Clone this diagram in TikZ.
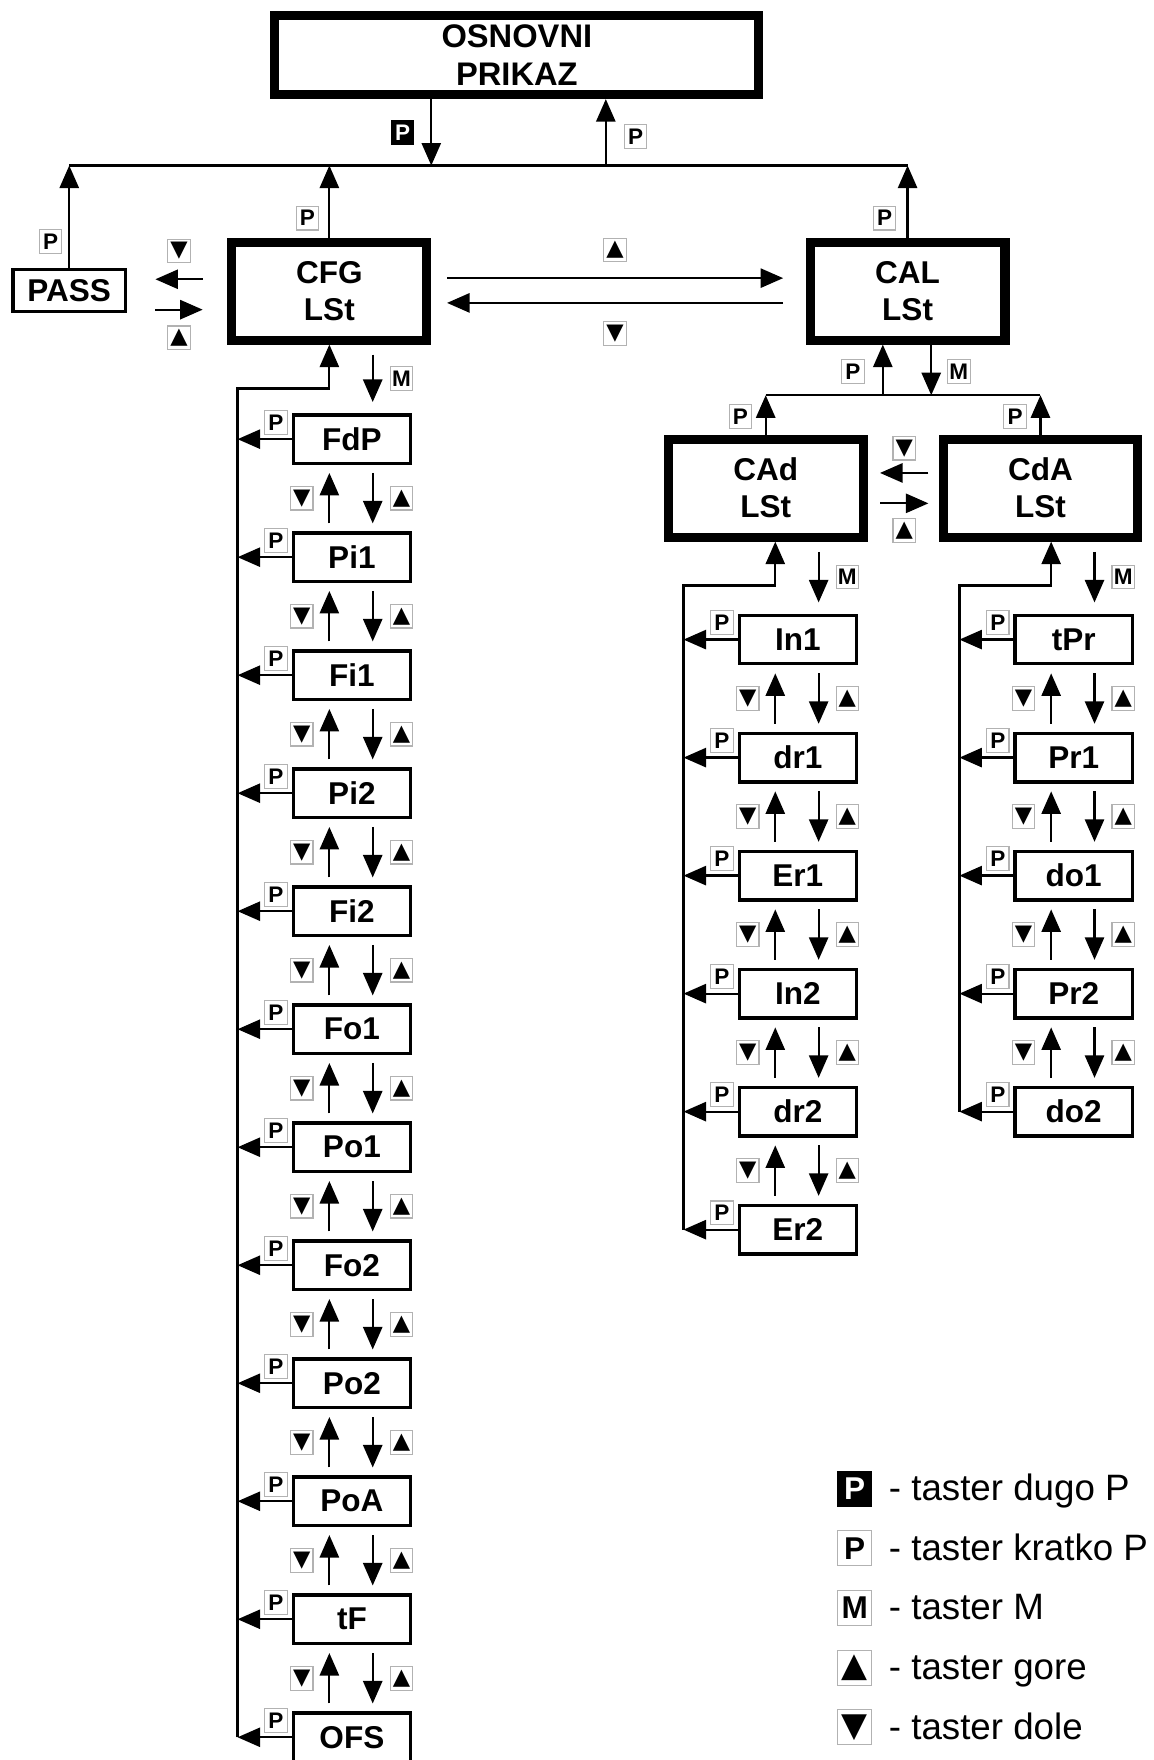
\documentclass[tikz,border=0pt]{standalone}
\usepackage{fontspec}
\setmainfont{Liberation Sans}
\newfontfamily\symfont{DejaVu Sans}
\usetikzlibrary{calc,arrows.meta}
\tikzset{menu/.style={draw,line width=4pt,minimum width=86.5pt,minimum height=43.5pt,inner sep=0pt,align=center,font=\bfseries\fontsize{14}{16.5}\selectfont}}
\tikzset{param/.style={draw,line width=1.5pt,minimum width=52pt,minimum height=21.5pt,inner sep=0pt,font=\bfseries\fontsize{14}{16}\selectfont}}
\tikzset{key/.style={draw=gray!60,line width=0.5pt,minimum width=10pt,minimum height=10.5pt,inner sep=0pt,font=\bfseries\fontsize{10}{10}\selectfont}}
\tikzset{longkey/.style={key,draw=black,fill=black,text=white}}
\tikzset{bigkey/.style={minimum width=15pt,minimum height=15.5pt}}
\tikzset{flow/.style={-{Triangle[length=10pt,width=8.5pt]},line width=1pt}}
\newcommand{\gore}{{\symfont ▲}}
\newcommand{\dole}{{\symfont ▼}}

\begin{document}
\begin{tikzpicture}[x=0.5pt,y=-0.5pt]
    \useasboundingbox (0,0) rectangle (1024,1563);
    \node [menu,minimum width=215pt,minimum height=35pt,font=\bfseries\fontsize{14.5}{16.5}\selectfont] (main) at (459,49) {OSNOVNI\\PRIKAZ};
    \node [param,minimum width=50pt,minimum height=18.5pt] (pass) at (61.5,258) {PASS};
    \node [menu] (cfg) at (292.5,258.5) {CFG\\LSt};
    \node [menu] (cal) at (806,258.5) {CAL\\LSt};
    \node [menu] (cad) at (680,433.5) {CAd\\LSt};
    \node [menu] (cda) at (924,433.5) {CdA\\LSt};
    \coordinate (bus) at (0,147);
    \coordinate (sub) at (0,351);
    \coordinate (down) at ($(main.south)+(-76,0)$);
    \coordinate (back) at ($(main.south)+(79,0)$);
    \coordinate (pup) at ($(cal.south)+(-22,0)$);
    \coordinate (mdn) at ($(cal.south)+(21,0)$);
    \draw [line width=1pt] (pass.north |- bus) -- (cal.north |- bus);
    \draw [flow] (down) -- (down |- bus) node [longkey,midway,left=7.5pt] {P};
    \draw [flow] (back |- bus) -- (back) node [key,pos=0.44,right=8pt] {P};
    \draw [flow] (pass.north) -- (pass.north |- bus) node [key,pos=0.26,left=3pt] {P};
    \draw [flow] (cfg.north) -- (cfg.north |- bus) node [key,pos=0.27,left=4.5pt] {P};
    \draw [flow] (cal.north) -- (cal.north |- bus) node [key,pos=0.27,left=5pt] {P};
    \draw [flow] ($(cfg.west)+(-22,-10.5)$) -- ($(pass.east)+(25,-10)$) node [key,midway,above=7pt] {\dole};
    \draw [flow] ($(pass.east)+(25,17)$) -- ($(cfg.west)+(-22,16.5)$) node [key,midway,below=7pt] {\gore};
    \draw [flow] ($(cfg.east)+(14,-11.5)$) -- ($(cal.west)+(-20,-11.5)$) node [key,midway,above=7pt] {\gore};
    \draw [flow] ($(cal.west)+(-20,10.5)$) -- ($(cfg.east)+(14,10.5)$) node [key,midway,below=8pt] {\dole};
    \draw [line width=1pt] (cad.north |- sub) -- (cda.north |- sub);
    \draw [flow] (pup |- sub) -- (pup) node [key,pos=0.47,left=8pt] {P};
    \draw [flow] (mdn) -- (mdn |- sub) node [key,pos=0.53,right=7pt] {M};
    \draw [flow] (cad.north) -- (cad.north |- sub) node [key,pos=0.46,left=6pt] {P};
    \draw [flow] (cda.north) -- (cda.north |- sub) node [key,pos=0.46,left=6pt] {P};
    \draw [flow] ($(cda.west)+(-9,-13.5)$) -- ($(cad.east)+(11,-13.5)$) node [key,midway,above=5.5pt] {\dole};
    \draw [flow] ($(cad.east)+(11,13.5)$) -- ($(cda.west)+(-9,13.5)$) node [key,midway,below=6.5pt] {\gore};
    \foreach \col/\cx/\cy/\cnt/\items in {cfg/312.5/390/12/{FdP,Pi1,Fi1,Pi2,Fi2,Fo1,Po1,Fo2,Po2,PoA,tF,OFS},cad/708.5/568/6/{In1,dr1,Er1,In2,dr2,Er2},cda/953.5/568/5/{tPr,Pr1,do1,Pr2,do2}} {
        \coordinate (\col-loop) at ({\cx-101.5},0);
        \coordinate (\col-up) at ({\cx-20},0);
        \coordinate (\col-dn) at ({\cx+18.5},0);
        \foreach \lbl [count=\n] in \items {
            \node [param] (\col\n) at (\cx,{\cy+(\n-1)*104.8}) {\lbl};
            \draw [flow] (\col\n.west) -- (\col\n.west -| \col-loop) node [key,pos=0.29,above=2pt] {P};
            \ifnum\n>1
                \pgfmathtruncatemacro\prev{\n-1}
                \draw [flow] ($(\col\n.north -| \col-up)+(0,-7)$) -- ($(\col\prev.south -| \col-up)+(0,7)$) node [key,midway,left=7pt] {\dole};
                \draw [flow] ($(\col\prev.south -| \col-dn)+(0,7)$) -- ($(\col\n.north -| \col-dn)+(0,-7)$) node [key,midway,right=7.5pt] {\gore};
            \fi
        }
        \draw [flow] ($(\col.south -| \col-dn)+(0,9)$) -- ($(\col1.north -| \col-dn)+(0,-10)$) node [key,midway,right=7.5pt] {M};
        \draw [flow] (\col\cnt.west -| \col-loop) |- ($(\col.south -| \col-up)+(0,39)$) -- (\col.south -| \col-up);
    }
    \foreach \st/\sz/\sym/\txt [count=\n] in {longkey/14/P/taster dugo P,key/14/P/taster kratko P,key/14/M/taster M,key/15/\gore/taster gore,key/15/\dole/taster dole} {
        \node [\st,bigkey,font=\bfseries\fontsize{\sz}{\sz}\selectfont] (leg\n) at (759,{1322+(\n-1)*53}) {\sym};
        \node [anchor=base west,inner sep=0pt,font=\fontsize{16.3}{16.3}\selectfont] (txt\n) at ($(leg\n.center)+(30,10.5)$) {- \txt};
    }
\end{tikzpicture}
\end{document}
